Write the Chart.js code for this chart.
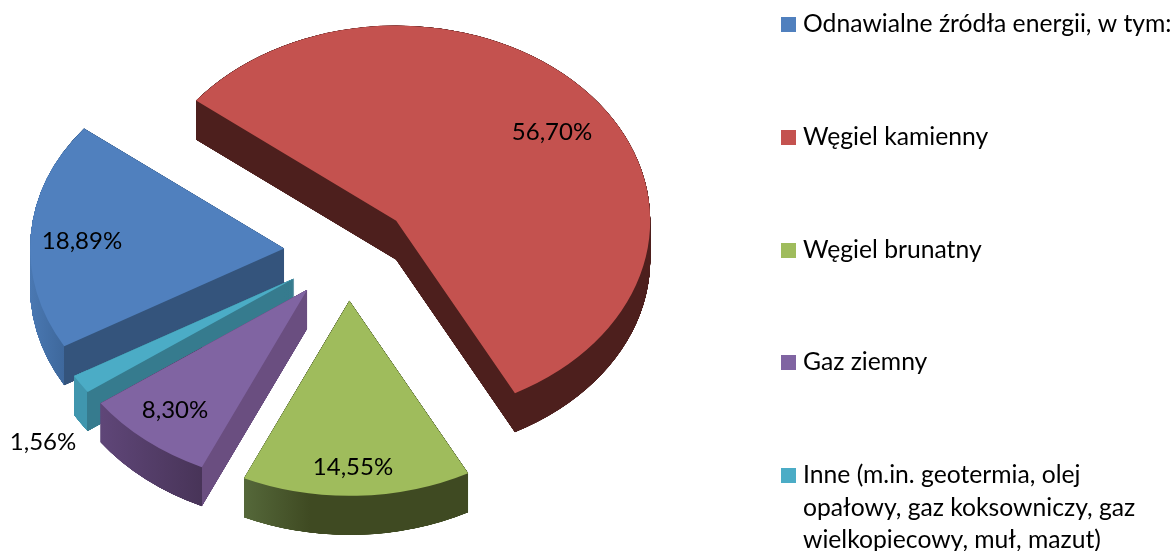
<!DOCTYPE html>
<html lang="pl">
<head>
<meta charset="utf-8">
<title>Struktura</title>
<style>
  html, body { margin: 0; background: #fff; }
  canvas { display: block; }
</style>
<script src="https://cdn.jsdelivr.net/npm/chart.js@4/dist/chart.umd.js"></script>
</head>
<body>
<canvas id="pie3d" width="1174" height="551"></canvas>
<script>
const categories = ['Odnawialne źródła energii, w tym:', 'Węgiel kamienny', 'Węgiel brunatny', 'Gaz ziemny', 'Inne (m.in. geotermia, olej opałowy, gaz koksowniczy, gaz wielkopiecowy, muł, mazut)'];
const shares = [18.89, 56.70, 14.55, 8.30, 1.56];
const shareLabels = ['18,89%', '56,70%', '14,55%', '8,30%', '1,56%'];

const colors = ['#5080be', '#c4524f', '#9fbc5c', '#8064a2', '#4bacc6'];
// side of each slice: [x, colour] stops, walking left to right
const sideStops = [
  [[30, '#4a78b2'], [64, '#3e689c'], [64, '#34547c'], [290, '#34547c']],
  [[190, '#4d1f1d'], [660, '#4d1f1d']],
  [[244, '#55683a'], [310, '#3f4a22'], [470, '#3f4a22']],
  [[101, '#5f4678'], [202, '#483458'], [202, '#6a4e80'], [310, '#6a4e80']],
  [[74, '#4096ae'], [87, '#4096ae'], [87, '#367b8e'], [296, '#367b8e']],
];
const drawOrder = [1, 0, 4, 3, 2];

const labelAt = [[82, 241], [552, 132], [353, 467], [175, 410], [43, 442]];
const legendLines = [
  ['Odnawialne źródła energii, w tym:'],
  ['Węgiel kamienny'],
  ['Węgiel brunatny'],
  ['Gaz ziemny'],
  ['Inne (m.in. geotermia, olej', 'opałowy, gaz koksowniczy, gaz', 'wielkopiecowy, muł, mazut)'],
];
const legendBaseline = [32, 145, 258, 370, 483];

const squash = 0.768;
const depth = 39;
const depthStep = 0.05; // thin wedges need a dense stack or their tip fades out
const explode = 63.5;
const valueFont = '24px Lato';
const legendFont = '24.7px Lato';

// gradients resolve in the space they are filled in, so shift by the slice's own offset
function sideFill(ctx, stops, shift) {
  const x0 = stops[0][0];
  const x1 = stops[stops.length - 1][0];
  const g = ctx.createLinearGradient(x0 - shift, 0, x1 - shift, 0);
  stops.forEach(([x, c]) => g.addColorStop((x - x0) / (x1 - x0), c));
  return g;
}

const tiltedPie = {
  id: 'tiltedPie',
  beforeDatasetDraw(chart, args) {
    const ctx = chart.ctx;
    const arcs = args.meta.data;
    drawOrder.forEach((i) => {
      const arc = arcs[i];
      const mid = arc.startAngle + arc.circumference / 2;
      const dx = Math.cos(mid) * explode;
      const dy = Math.sin(mid) * explode;
      const base = arc.options;
      ctx.save();
      ctx.translate(arc.x, arc.y);
      ctx.scale(1, squash);
      ctx.translate(-arc.x, -arc.y);
      ctx.translate(dx, dy);

      // the slice thickness, stacked downwards under the top face
      arc.options = Object.assign({}, base, { backgroundColor: sideFill(ctx, sideStops[i], dx) });
      for (let d = depth; d > 0; d -= depthStep) {
        ctx.save();
        ctx.translate(0, d / squash);
        arc.draw(ctx);
        ctx.restore();
      }
      arc.options = base;

      arc.draw(ctx);
      ctx.restore();
    });
    return false;
  },
  afterDraw(chart) {
    const ctx = chart.ctx;
    ctx.save();
    ctx.fillStyle = '#000';
    ctx.textBaseline = 'alphabetic';

    ctx.font = valueFont;
    ctx.textAlign = 'center';
    shareLabels.forEach((t, i) => ctx.fillText(t, labelAt[i][0], labelAt[i][1] + 8));

    ctx.font = legendFont;
    ctx.textAlign = 'left';
    legendLines.forEach((lines, i) => {
      ctx.fillStyle = colors[i];
      ctx.fillRect(781, legendBaseline[i] - 15, 15, 15);
      ctx.fillStyle = '#000';
      lines.forEach((t, n) => ctx.fillText(t, 803, legendBaseline[i] + n * 32.5));
    });
    ctx.restore();
  }
};

new Chart(document.getElementById('pie3d'), {
  type: 'pie',
  data: {
    labels: categories,
    datasets: [{
      data: shares,
      backgroundColor: colors,
      borderWidth: 0,
    }],
  },
  options: {
    responsive: false,
    animation: false,
    rotation: -120,
    radius: 254,
    layout: { padding: { right: 479, bottom: 47 } },
    plugins: {
      legend: { display: false },
      tooltip: { enabled: false },
    },
  },
  plugins: [tiltedPie],
});
</script>
</body>
</html>
